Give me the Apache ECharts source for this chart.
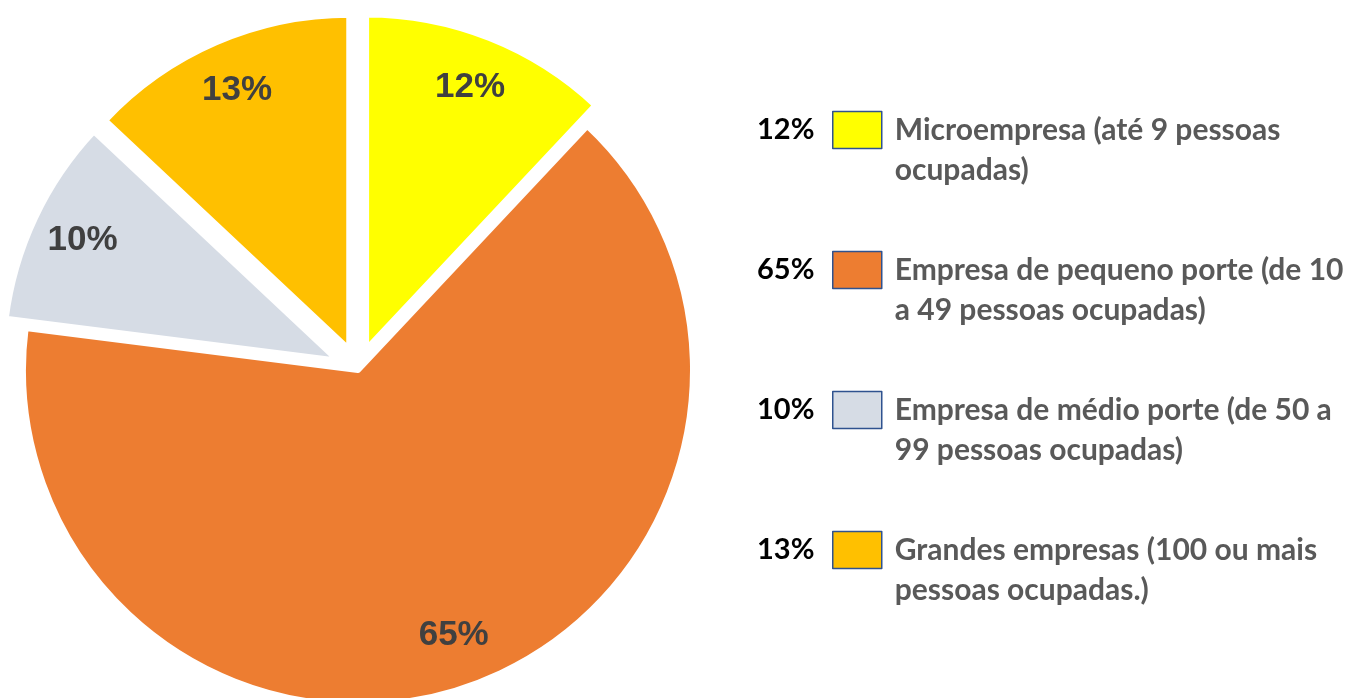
<!DOCTYPE html>
<html>
<head>
<meta charset="utf-8">
<script src="https://cdn.jsdelivr.net/npm/echarts@6/dist/echarts.min.js"></script>
<style>
  html, body { margin: 0; padding: 0; background: #fff; }
  #chart { width: 1360px; height: 698px; }
</style>
</head>
<body>
<div id="chart"></div>
<script>
const names = [
    "Microempresa (até 9 pessoas ocupadas)",
    "Empresa de pequeno porte (de 10 a 49 pessoas ocupadas)",
    "Empresa de médio porte (de 50 a 99 pessoas ocupadas)",
    "Grandes empresas (100 ou mais pessoas ocupadas.)"
];
const legendLines = [
    "Microempresa (até 9 pessoas\nocupadas)",
    "Empresa de pequeno porte (de 10\na 49 pessoas ocupadas)",
    "Empresa de médio porte (de 50 a\n99 pessoas ocupadas)",
    "Grandes empresas (100 ou mais\npessoas ocupadas.)"
];
const values = [12, 65, 10, 13];
const colors = ["#FFFF00", "#ED7D31", "#D6DCE5", "#FFC000"];
const exploded = [true, false, true, true];

const total = values.reduce((a, b) => a + b, 0);
const pct = v => Math.round(v / total * 100) + "%";

/*
==========================
Pie data
==========================
*/

const pieData = names.map((n, i) => ({
    name: n,
    value: values[i],
    selected: exploded[i],
    itemStyle: { color: colors[i] }
}));

const labelData = names.map((n, i) => ({
    name: n,
    value: values[i],
    selected: exploded[i]
}));

const chart = echarts.init(document.getElementById("chart"));

// legend text gets an empty first line so the wording starts level with the swatch
chart.setOption({
    animation: false,
    backgroundColor: "#fff",

    legend: [
        {
            orient: "vertical",
            left: 757,
            top: 70,
            padding: 0,
            align: "right",
            icon: "none",
            itemWidth: 12,
            itemHeight: 37,
            itemGap: 20,
            selectedMode: false,
            data: names,
            formatter: name => "\n" + pct(values[names.indexOf(name)]) + "\n",
            textStyle: {
                fontFamily: "Lato",
                fontWeight: "bold",
                fontSize: 29,
                color: "#000",
                lineHeight: 40
            }
        },
        {
            orient: "vertical",
            left: 832,
            top: 70,
            padding: 0,
            icon: "rect",
            itemWidth: 49,
            itemHeight: 37,
            itemGap: 20,
            selectedMode: false,
            data: names,
            itemStyle: {
                borderColor: "#2F528F",
                borderWidth: 1.5
            },
            formatter: name => "\n" + legendLines[names.indexOf(name)],
            textStyle: {
                fontFamily: "Lato",
                fontWeight: "bold",
                fontSize: 30,
                color: "#595959",
                lineHeight: 40,
                padding: [0, 0, 0, 8]
            }
        }
    ],

    series: [
        {
            name: "main",
            type: "pie",
            center: [358, 370],
            radius: 335,
            startAngle: 90,
            selectedMode: "multiple",
            selectedOffset: 22,
            silent: true,
            label: { show: false },
            labelLine: { show: false },
            itemStyle: {
                borderColor: "#fff",
                borderWidth: 6
            },
            data: pieData
        },
        {
            name: "labels",
            type: "pie",
            center: [358, 370],
            radius: [224, 335],
            startAngle: 90,
            selectedMode: "multiple",
            selectedOffset: 22,
            silent: true,
            avoidLabelOverlap: false,
            itemStyle: { color: "rgba(0,0,0,0)" },
            label: {
                show: true,
                position: "inside",
                formatter: p => pct(p.value),
                fontFamily: "Liberation Sans",
                fontWeight: "bold",
                fontSize: 35,
                color: "#404040"
            },
            labelLine: { show: false },
            data: labelData
        }
    ]
});
</script>
</body>
</html>
